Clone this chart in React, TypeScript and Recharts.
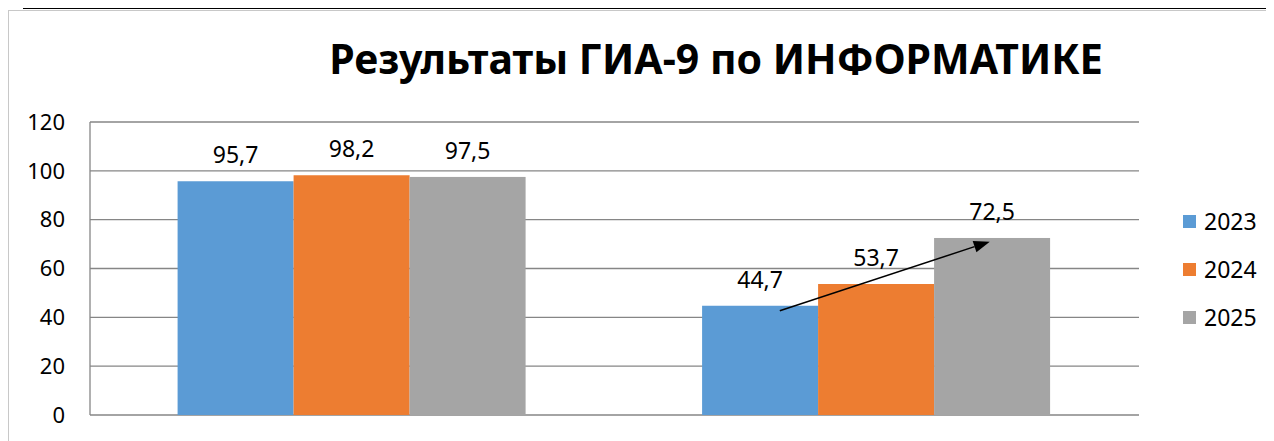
import { BarChart, Bar, XAxis, YAxis, CartesianGrid, LabelList } from 'recharts';

// значения с диаграммы
const categories = ['Успеваемость', 'Качество знаний'];
const years = ['2023', '2024', '2025'];
const values2023 = [95.7, 44.7];
const values2024 = [98.2, 53.7];
const values2025 = [97.5, 72.5];
const yTicks = [0, 20, 40, 60, 80, 100, 120];
const colors = ['#5B9BD5', '#ED7D31', '#A5A5A5'];

// обрезанная строка таблицы над диаграммой
const tableCells = ['2023', '46', '94,5', '72,5', '8,9'];

// стрелка роста (в единицах оси Y)
const arrowFrom = 42.7;
const arrowTo = 71;

const data = categories.map((name, i) => ({
  name,
  y2023: values2023[i],
  y2024: values2024[i],
  y2025: values2025[i],
}));

const fmt = (v: any) => String(v).replace('.', ',');

const GrayBar = (props: any) => {
  const { x, y, width, height, fill, index, payload } = props;
  const rect = <rect x={x} y={y} width={width} height={height} fill={fill} />;
  if (index !== 1) return rect;
  const base = y + height;
  const k = height / payload.y2025;
  const x1 = x - 2 * width + width * 0.67;
  const y1 = base - arrowFrom * k;
  const x2 = x + width * 0.48;
  const y2 = base - arrowTo * k;
  const ang = Math.atan2(y2 - y1, x2 - x1);
  const len = 16;
  const half = 6;
  const bx = x2 - len * Math.cos(ang);
  const by = y2 - len * Math.sin(ang);
  const p1 = `${bx + half * Math.sin(ang)},${by - half * Math.cos(ang)}`;
  const p2 = `${bx - half * Math.sin(ang)},${by + half * Math.cos(ang)}`;
  return (
    <g>
      {rect}
      <line x1={x1} y1={y1} x2={bx} y2={by} stroke="#000" strokeWidth={1.5} />
      <polygon points={`${x2},${y2} ${p1} ${p2}`} fill="#000" />
    </g>
  );
};

const cellLines = [23, 150, 515, 794, 1089];
const cellCenters = [84, 332, 652, 940, 1190];

export default function App() {
  return (
    <div
      style={{
        position: 'relative',
        width: 1274,
        height: 441,
        marginLeft: -8,
        marginTop: -8,
        overflow: 'hidden',
        background: '#fff',
        fontFamily: '"Noto Sans", sans-serif',
      }}
    >
      {/* хвост таблицы */}
      {tableCells.map((t, i) => (
        <div
          key={t + i}
          style={{
            position: 'absolute',
            left: cellCenters[i] - 60,
            width: 120,
            top: -12,
            textAlign: 'center',
            fontFamily: '"Liberation Serif", serif',
            fontSize: 18,
            lineHeight: '18px',
          }}
        >
          {t}
        </div>
      ))}
      <div style={{ position: 'absolute', left: 0, top: 7, width: 1274, height: 40, background: '#fff' }} />
      <div style={{ position: 'absolute', left: 23, top: 7, width: 1260, height: 2, background: '#000' }} />
      {cellLines.map((lx) => (
        <div key={lx} style={{ position: 'absolute', left: lx, top: 0, width: 2, height: 9, background: '#000' }} />
      ))}

      {/* рамка диаграммы */}
      <div style={{ position: 'absolute', left: 8, top: 10, width: 1300, height: 500, border: '1px solid #c8c8c8' }} />

      <div
        style={{
          position: 'absolute',
          left: 0,
          top: 30,
          width: 1432,
          textAlign: 'center',
          fontWeight: 700,
          fontSize: 41,
          color: '#000',
        }}
      >
        Результаты ГИА-9 по ИНФОРМАТИКЕ
      </div>

      <div style={{ position: 'absolute', left: 0, top: 0 }}>
        <BarChart
          width={1274}
          height={441}
          data={data}
          margin={{ top: 122, right: 135, bottom: 26, left: 0 }}
          barCategoryGap="16.7%"
          barGap={0}
        >
          <CartesianGrid vertical={false} stroke="#868686" strokeWidth={1.3} />
          <XAxis dataKey="name" hide />
          <YAxis
            width={90}
            domain={[0, 120]}
            ticks={yTicks}
            tickLine={false}
            tickSize={0}
            tickMargin={25}
            axisLine={{ stroke: '#868686', strokeWidth: 1.3 }}
            tick={{ fill: '#000', fontSize: 22 }}
          />
          <Bar dataKey="y2023" name={years[0]} fill={colors[0]} isAnimationActive={false}>
            <LabelList dataKey="y2023" position="top" offset={18} formatter={fmt} fill="#000" fontSize={23} />
          </Bar>
          <Bar dataKey="y2024" name={years[1]} fill={colors[1]} isAnimationActive={false}>
            <LabelList dataKey="y2024" position="top" offset={18} formatter={fmt} fill="#000" fontSize={23} />
          </Bar>
          <Bar dataKey="y2025" name={years[2]} fill={colors[2]} shape={GrayBar} isAnimationActive={false}>
            <LabelList dataKey="y2025" position="top" offset={18} formatter={fmt} fill="#000" fontSize={23} />
          </Bar>
        </BarChart>
      </div>

      {/* легенда */}
      <div style={{ position: 'absolute', left: 1183, top: 204 }}>
        {years.map((yr, i) => (
          <div key={yr} style={{ display: 'flex', alignItems: 'center', height: 34, marginBottom: 14 }}>
            <div style={{ width: 13, height: 13, background: colors[i], marginRight: 8 }} />
            <span style={{ fontSize: 23, color: '#000' }}>{yr}</span>
          </div>
        ))}
      </div>
    </div>
  );
}
